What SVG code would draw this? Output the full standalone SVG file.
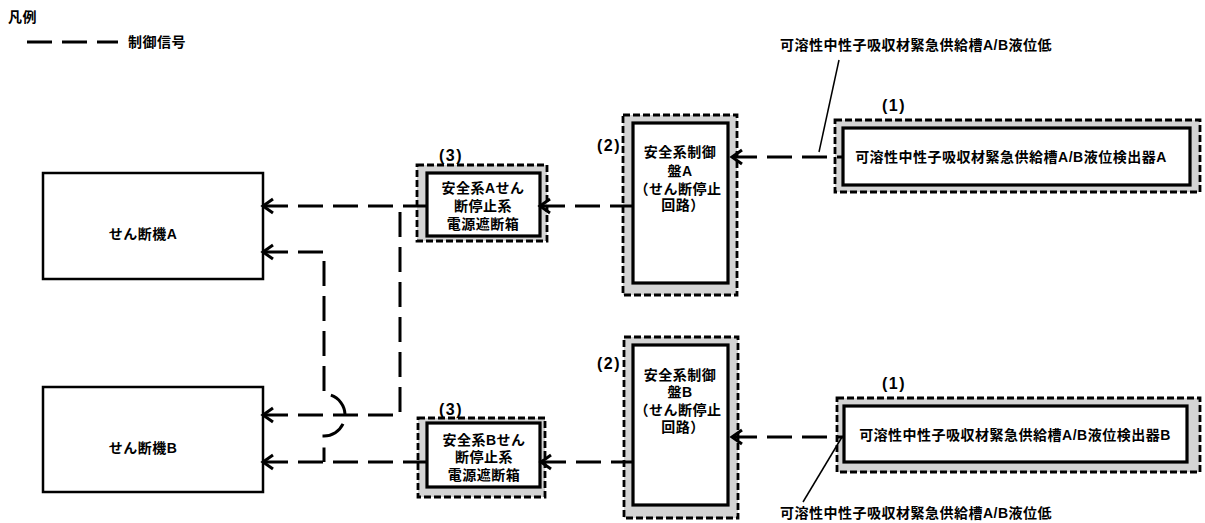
<svg xmlns="http://www.w3.org/2000/svg" width="1205" height="523" viewBox="0 0 1205 523">
<style>
text{font-family:"Liberation Sans","Noto Sans CJK JP",sans-serif;font-weight:bold;font-size:14px;letter-spacing:0.5px;fill:#000}
.c{text-anchor:middle}
.num{font-size:16px;letter-spacing:1.5px}
.outer{fill:#d4d4d4;stroke:#000;stroke-width:2.8;stroke-dasharray:7 3}
.inner{fill:#fff;stroke:#000;stroke-width:3.2}
.brk{fill:#fff;stroke:#000;stroke-width:2.5}
.sig{fill:none;stroke:#000;stroke-width:3;stroke-dasharray:25 10}
.arr{marker-start:url(#ah)}
.lead{fill:none;stroke:#000;stroke-width:1.5}
</style>
<defs>
<marker id="ah" markerUnits="userSpaceOnUse" markerWidth="24" markerHeight="24" viewBox="-12 -12 24 24" refX="0" refY="0" orient="auto-start-reverse">
<path d="M-10,-7 L0,0 L-10,7" fill="none" stroke="#000" stroke-width="3" stroke-linejoin="miter"/>
</marker>
</defs>
<rect width="1205" height="523" fill="#fff"/>

<g id="legend">
<text x="8" y="22">凡例</text>
<line x1="27" y1="42" x2="118" y2="42" class="sig"/>
<text x="128" y="47">制御信号</text>
</g>

<g id="breakerA">
<rect x="43" y="173" width="220" height="106" class="brk"/>
<text x="143" y="239" class="c">せん断機A</text>
</g>
<g id="breakerB">
<rect x="43" y="387" width="220" height="105" class="brk"/>
<text x="143" y="453" class="c">せん断機B</text>
</g>

<g id="boxA3">
<rect x="417" y="165" width="130" height="76" class="outer"/>
<rect x="427" y="173" width="113" height="63" class="inner"/>
<text x="451" y="161" class="c num">(3)</text>
<text x="483" y="192.5" class="c">安全系Aせん</text>
<text x="483" y="211" class="c">断停止系</text>
<text x="483" y="229" class="c">電源遮断箱</text>
</g>
<g id="boxB3">
<rect x="418" y="418" width="127" height="79" class="outer"/>
<rect x="427" y="423" width="113" height="64" class="inner"/>
<text x="451" y="415" class="c num">(3)</text>
<text x="484" y="444.5" class="c">安全系Bせん</text>
<text x="484" y="462" class="c">断停止系</text>
<text x="484" y="479.5" class="c">電源遮断箱</text>
</g>

<g id="boxA2">
<rect x="623" y="115" width="114" height="180" class="outer"/>
<rect x="633" y="123" width="95" height="160" class="inner"/>
<text x="609" y="151" class="c num">(2)</text>
<text x="680" y="157" class="c">安全系制御</text>
<text x="680" y="175.5" class="c">盤A</text>
<text x="678" y="193.5" class="c">（せん断停止</text>
<text x="683" y="210" class="c">回路）</text>
</g>
<g id="boxB2">
<rect x="624" y="337" width="114" height="181" class="outer"/>
<rect x="633" y="345" width="95" height="160" class="inner"/>
<text x="609" y="369" class="c num">(2)</text>
<text x="680" y="379.5" class="c">安全系制御</text>
<text x="680" y="397" class="c">盤B</text>
<text x="678" y="415" class="c">（せん断停止</text>
<text x="683" y="432" class="c">回路）</text>
</g>

<g id="boxA1">
<rect x="835" y="120" width="365" height="72" class="outer"/>
<rect x="843" y="128" width="347" height="57" class="inner"/>
<text x="894" y="111" class="c num">(1)</text>
<text x="1011" y="162" class="c">可溶性中性子吸収材緊急供給槽A/B液位検出器A</text>
</g>
<g id="boxB1">
<rect x="837" y="398" width="363" height="74" class="outer"/>
<rect x="844" y="406" width="343" height="56" class="inner"/>
<text x="894" y="389" class="c num">(1)</text>
<text x="1015" y="440" class="c">可溶性中性子吸収材緊急供給槽A/B液位検出器B</text>
</g>

<g id="callouts">
<text x="780" y="50">可溶性中性子吸収材緊急供給槽A/B液位低</text>
<line x1="839" y1="60" x2="819" y2="152" class="lead"/>
<text x="780" y="518">可溶性中性子吸収材緊急供給槽A/B液位低</text>
<line x1="842" y1="437" x2="803" y2="502" class="lead"/>
</g>

<g id="connectors">
<path d="M732,157 H843" class="sig arr"/>
<path d="M732,437 H844" class="sig arr"/>
<path d="M540,206 H633" class="sig arr"/>
<path d="M541,462 H633" class="sig arr"/>
<path d="M263,206 H427" class="sig arr"/>
<path d="M263,415 H400 V206" class="sig arr"/>
<path d="M263,462 H427" class="sig arr"/>
<path d="M263,252 H324 V394 A21,21 0 0 1 324,436 V462" class="sig arr"/>
</g>
</svg>
